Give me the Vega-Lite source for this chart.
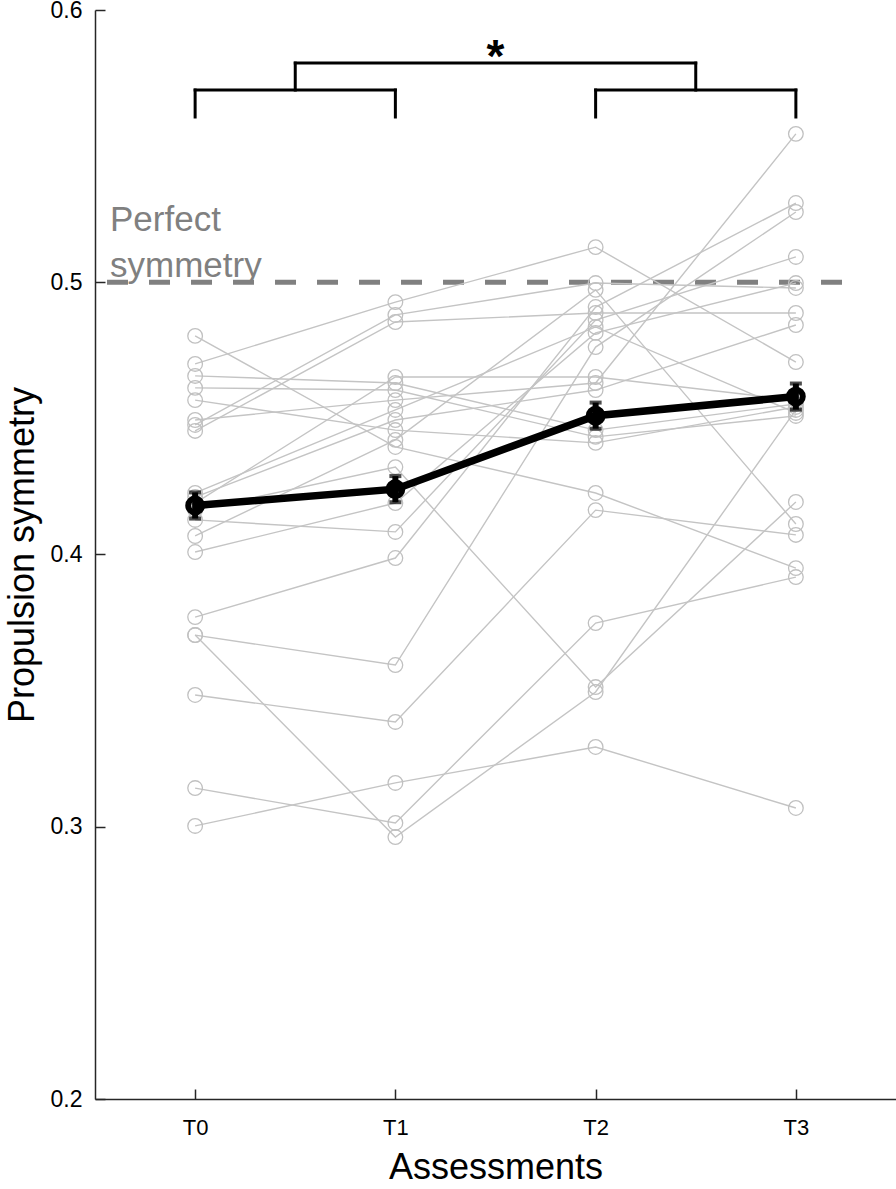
{
  "$schema": "https://vega.github.io/schema/vega-lite/v6.json",
  "width": 801,
  "height": 1089,
  "autosize": {"type": "none"},
  "padding": {"left": 95, "top": 10, "right": 0, "bottom": 90},
  "background": "white",
  "config": {
    "view": {"stroke": null},
    "font": "Liberation Sans",
    "axis": {"grid": false, "domainColor": "#262626", "domainWidth": 1.5, "tickColor": "#262626", "tickWidth": 1.5, "labelColor": "black", "titleColor": "black", "titleFontWeight": "normal", "labelFont": "Liberation Sans", "titleFont": "Liberation Sans"}
  },
  "datasets": {
    "subj": [
      {"s": 1, "t": 0, "v": 0.3003}, {"s": 1, "t": 1, "v": 0.3161}, {"s": 1, "t": 2, "v": 0.3293}, {"s": 1, "t": 3, "v": 0.3069},
      {"s": 2, "t": 0, "v": 0.3142}, {"s": 2, "t": 1, "v": 0.3014}, {"s": 2, "t": 2, "v": 0.3748}, {"s": 2, "t": 3, "v": 0.3917},
      {"s": 3, "t": 0, "v": 0.3704}, {"s": 3, "t": 1, "v": 0.2962}, {"s": 3, "t": 2, "v": 0.3495}, {"s": 3, "t": 3, "v": 0.4531},
      {"s": 4, "t": 0, "v": 0.3704}, {"s": 4, "t": 1, "v": 0.3594}, {"s": 4, "t": 2, "v": 0.4762}, {"s": 4, "t": 3, "v": 0.5258},
      {"s": 5, "t": 0, "v": 0.3484}, {"s": 5, "t": 1, "v": 0.3385}, {"s": 5, "t": 2, "v": 0.4163}, {"s": 5, "t": 3, "v": 0.4072},
      {"s": 6, "t": 0, "v": 0.3770}, {"s": 6, "t": 1, "v": 0.3987}, {"s": 6, "t": 2, "v": 0.4909}, {"s": 6, "t": 3, "v": 0.5291},
      {"s": 7, "t": 0, "v": 0.4127}, {"s": 7, "t": 1, "v": 0.4083}, {"s": 7, "t": 2, "v": 0.4861}, {"s": 7, "t": 3, "v": 0.5093},
      {"s": 8, "t": 0, "v": 0.4009}, {"s": 8, "t": 1, "v": 0.4189}, {"s": 8, "t": 2, "v": 0.4814}, {"s": 8, "t": 3, "v": 0.4997},
      {"s": 9, "t": 0, "v": 0.4068}, {"s": 9, "t": 1, "v": 0.4421}, {"s": 9, "t": 2, "v": 0.4972}, {"s": 9, "t": 3, "v": 0.4112},
      {"s": 10, "t": 0, "v": 0.4803}, {"s": 10, "t": 1, "v": 0.4395}, {"s": 10, "t": 2, "v": 0.4226}, {"s": 10, "t": 3, "v": 0.3950},
      {"s": 11, "t": 0, "v": 0.4700}, {"s": 11, "t": 1, "v": 0.4927}, {"s": 11, "t": 2, "v": 0.5129}, {"s": 11, "t": 3, "v": 0.4707},
      {"s": 12, "t": 0, "v": 0.4476}, {"s": 12, "t": 1, "v": 0.4880}, {"s": 12, "t": 2, "v": 0.4997}, {"s": 12, "t": 3, "v": 0.4979},
      {"s": 13, "t": 0, "v": 0.4454}, {"s": 13, "t": 1, "v": 0.4854}, {"s": 13, "t": 2, "v": 0.4887}, {"s": 13, "t": 3, "v": 0.4887},
      {"s": 14, "t": 0, "v": 0.4656}, {"s": 14, "t": 1, "v": 0.4630}, {"s": 14, "t": 2, "v": 0.4457}, {"s": 14, "t": 3, "v": 0.4553},
      {"s": 15, "t": 0, "v": 0.4612}, {"s": 15, "t": 1, "v": 0.4604}, {"s": 15, "t": 2, "v": 0.4432}, {"s": 15, "t": 3, "v": 0.4509},
      {"s": 16, "t": 0, "v": 0.4567}, {"s": 16, "t": 1, "v": 0.4457}, {"s": 16, "t": 2, "v": 0.4410}, {"s": 16, "t": 3, "v": 0.4542},
      {"s": 17, "t": 0, "v": 0.4494}, {"s": 17, "t": 1, "v": 0.4567}, {"s": 17, "t": 2, "v": 0.4630}, {"s": 17, "t": 3, "v": 0.5545},
      {"s": 18, "t": 0, "v": 0.4226}, {"s": 18, "t": 1, "v": 0.4531}, {"s": 18, "t": 2, "v": 0.4836}, {"s": 18, "t": 3, "v": 0.4520},
      {"s": 19, "t": 0, "v": 0.4211}, {"s": 19, "t": 1, "v": 0.4494}, {"s": 19, "t": 2, "v": 0.4604}, {"s": 19, "t": 3, "v": 0.4843},
      {"s": 20, "t": 0, "v": 0.4189}, {"s": 20, "t": 1, "v": 0.4652}, {"s": 20, "t": 2, "v": 0.4652}, {"s": 20, "t": 3, "v": 0.4567},
      {"s": 21, "t": 0, "v": 0.4163}, {"s": 21, "t": 1, "v": 0.4321}, {"s": 21, "t": 2, "v": 0.3513}, {"s": 21, "t": 3, "v": 0.4193}
    ],
    "mean": [
      {"t": 0, "m": 0.418, "lo": 0.4132, "hi": 0.4228},
      {"t": 1, "m": 0.424, "lo": 0.4192, "hi": 0.4288},
      {"t": 2, "m": 0.451, "lo": 0.4462, "hi": 0.4558},
      {"t": 3, "m": 0.458, "lo": 0.4532, "hi": 0.4628}
    ],
    "brackets": [
      {"x": 0, "x2": 1, "y": 0.5706, "y2": 0.5706},
      {"x": 0, "x2": 0, "y": 0.5706, "y2": 0.5607},
      {"x": 1, "x2": 1, "y": 0.5706, "y2": 0.5607},
      {"x": 2, "x2": 3, "y": 0.5706, "y2": 0.5706},
      {"x": 2, "x2": 2, "y": 0.5706, "y2": 0.5607},
      {"x": 3, "x2": 3, "y": 0.5706, "y2": 0.5607},
      {"x": 0.5, "x2": 2.5, "y": 0.5805, "y2": 0.5805},
      {"x": 0.5, "x2": 0.5, "y": 0.5805, "y2": 0.5706},
      {"x": 2.5, "x2": 2.5, "y": 0.5805, "y2": 0.5706}
    ]
  },
  "layer": [
    {
      "data": {"values": [{"x": -0.44, "x2": 3.29, "y": 0.5}]},
      "mark": {"type": "rule", "color": "#808080", "strokeWidth": 5, "strokeDash": [21, 21]},
      "encoding": {
        "x": {"field": "x", "type": "quantitative", "scale": {"domain": [-0.5, 3.5], "nice": false, "zero": false},
          "axis": {"values": [0, 1, 2, 3], "labelExpr": "'T' + datum.value", "tickSize": -10, "labelPadding": 28, "labelFontSize": 22, "title": "Assessments", "titleFontSize": 36, "titlePadding": 12}},
        "x2": {"field": "x2"},
        "y": {"field": "y", "type": "quantitative", "scale": {"domain": [0.2, 0.6], "nice": false, "zero": false},
          "axis": {"values": [0.2, 0.3, 0.4, 0.5, 0.6], "format": ".1f", "tickSize": -10, "labelPadding": 23, "labelFontSize": 23, "title": "Propulsion symmetry", "titleFontSize": 36, "titlePadding": 9}}
      }
    },
    {
      "data": {"name": "subj"},
      "mark": {"type": "line", "color": "#c4c4c4", "strokeWidth": 1.4},
      "encoding": {
        "x": {"field": "t", "type": "quantitative"},
        "y": {"field": "v", "type": "quantitative"},
        "detail": {"field": "s", "type": "nominal"}
      }
    },
    {
      "data": {"name": "subj"},
      "mark": {"type": "point", "shape": "circle", "filled": false, "color": "#c0c0c0", "strokeWidth": 1.3, "size": 215, "opacity": 1},
      "encoding": {
        "x": {"field": "t", "type": "quantitative"},
        "y": {"field": "v", "type": "quantitative"}
      }
    },
    {
      "data": {"name": "mean"},
      "mark": {"type": "line", "color": "black", "strokeWidth": 7.5},
      "encoding": {
        "x": {"field": "t", "type": "quantitative"},
        "y": {"field": "m", "type": "quantitative"}
      }
    },
    {
      "data": {"name": "mean"},
      "mark": {"type": "rule", "color": "black", "strokeWidth": 6},
      "encoding": {
        "x": {"field": "t", "type": "quantitative"},
        "y": {"field": "lo", "type": "quantitative"},
        "y2": {"field": "hi"}
      }
    },
    {
      "data": {"name": "mean"},
      "mark": {"type": "tick", "orient": "horizontal", "color": "black", "size": 12, "thickness": 4},
      "encoding": {
        "x": {"field": "t", "type": "quantitative"},
        "y": {"field": "lo", "type": "quantitative"}
      }
    },
    {
      "data": {"name": "mean"},
      "mark": {"type": "tick", "orient": "horizontal", "color": "black", "size": 12, "thickness": 4},
      "encoding": {
        "x": {"field": "t", "type": "quantitative"},
        "y": {"field": "hi", "type": "quantitative"}
      }
    },
    {
      "data": {"name": "mean"},
      "mark": {"type": "point", "shape": "circle", "filled": false, "color": "black", "strokeWidth": 6, "size": 190, "opacity": 1},
      "encoding": {
        "x": {"field": "t", "type": "quantitative"},
        "y": {"field": "m", "type": "quantitative"}
      }
    },
    {
      "data": {"name": "brackets"},
      "mark": {"type": "rule", "color": "black", "strokeWidth": 3, "strokeCap": "square"},
      "encoding": {
        "x": {"field": "x", "type": "quantitative"},
        "x2": {"field": "x2"},
        "y": {"field": "y", "type": "quantitative"},
        "y2": {"field": "y2"}
      }
    },
    {
      "data": {"values": [{"x": 1.5, "y": 0.5772, "label": "*"}]},
      "mark": {"type": "text", "fontSize": 46, "fontWeight": "bold", "align": "center", "baseline": "alphabetic", "color": "black"},
      "encoding": {
        "x": {"field": "x", "type": "quantitative"},
        "y": {"field": "y", "type": "quantitative"},
        "text": {"field": "label"}
      }
    },
    {
      "data": {"values": [{"x": -0.425, "y": 0.5188, "label": "Perfect"}, {"x": -0.425, "y": 0.5019, "label": "symmetry"}]},
      "mark": {"type": "text", "fontSize": 35, "align": "left", "baseline": "alphabetic", "color": "#808080"},
      "encoding": {
        "x": {"field": "x", "type": "quantitative"},
        "y": {"field": "y", "type": "quantitative"},
        "text": {"field": "label"}
      }
    }
  ]
}
